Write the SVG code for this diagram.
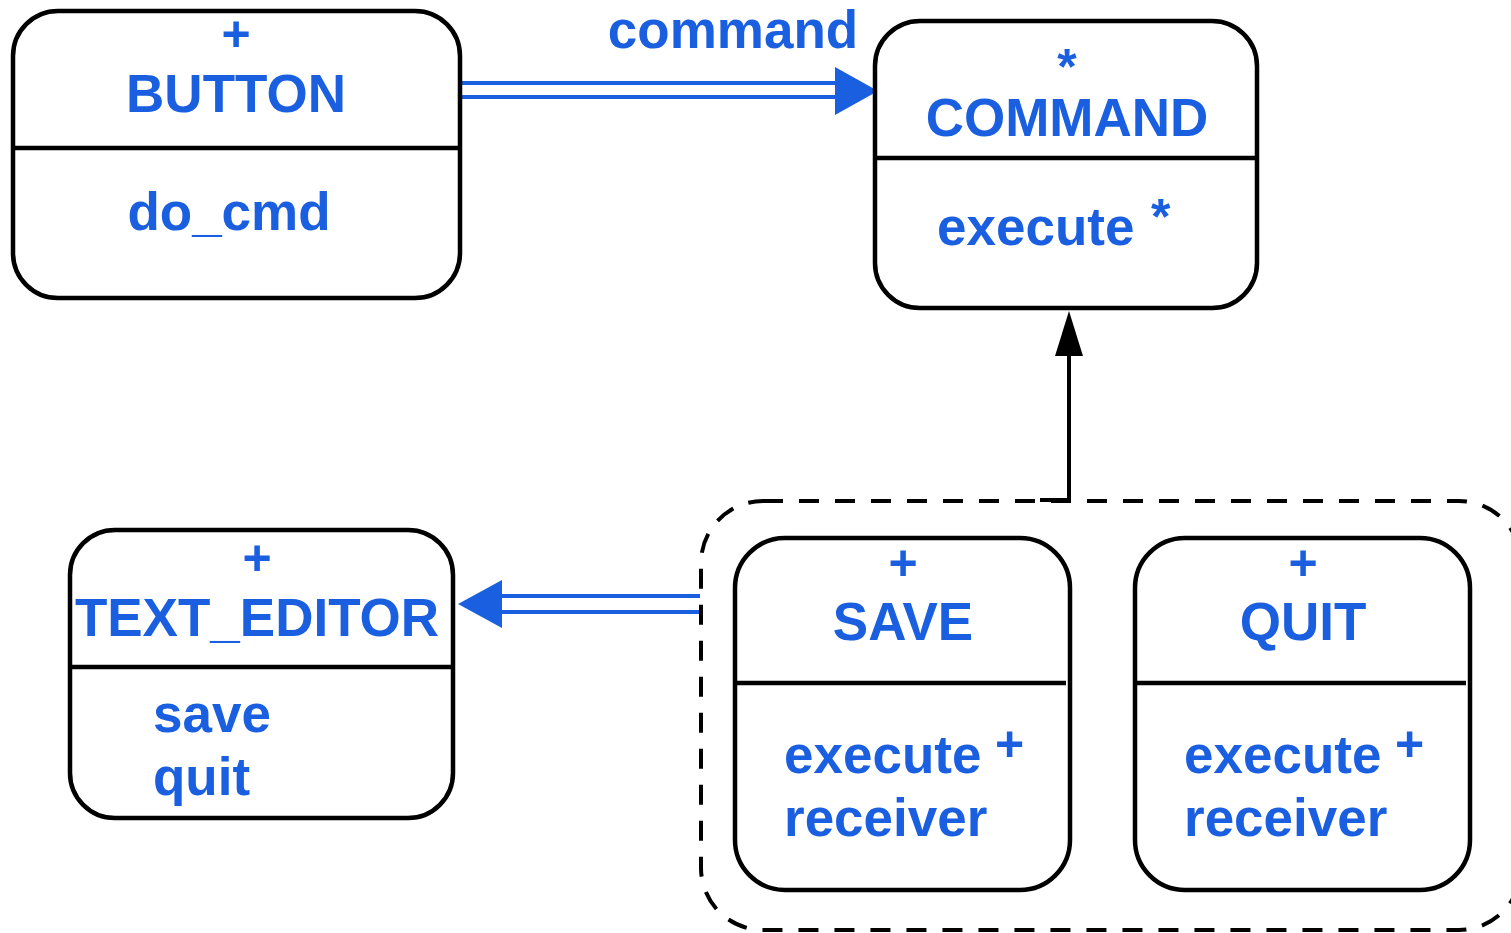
<svg xmlns="http://www.w3.org/2000/svg" width="1511" height="933" viewBox="0 0 1511 933">
<style>
.box{fill:#fff;stroke:#000;stroke-width:4.5}
.div{stroke:#000;stroke-width:4.5}
.t{font-family:"Liberation Sans",Arial,sans-serif;font-weight:bold;fill:#1a5fe0;font-size:53px}
.m{text-anchor:middle}
.s{font-size:50px}
.blue{stroke:#1a5fe0;stroke-width:4;fill:none}
</style>
<rect width="1511" height="933" fill="#fff"/>
<g id="connectors">
<line class="blue" x1="460" y1="83" x2="838" y2="83"/>
<line class="blue" x1="460" y1="97" x2="838" y2="97"/>
<polygon points="835,67 878,91 835,115" fill="#1a5fe0"/>
<text class="t" x="733" y="48" text-anchor="middle">command</text>
<line class="blue" x1="499" y1="596" x2="700" y2="596"/>
<line class="blue" x1="499" y1="612" x2="700" y2="612"/>
<polygon points="502,580 458,604 502,628" fill="#1a5fe0"/>
<polyline points="1040,500 1069,500 1069,350" fill="none" stroke="#000" stroke-width="4"/>
<polygon points="1055,356 1069,311 1083,356" fill="#000"/>
</g>
<g id="group">
<rect x="701" y="501" width="820" height="429" rx="62" fill="none" stroke="#000" stroke-width="4" stroke-dasharray="20,16"/>
</g>
<g id="button">
<rect class="box" x="13" y="11" width="447" height="287" rx="45"/>
<line class="div" x1="13" y1="148" x2="460" y2="148"/>
<text class="t s m" x="236" y="51">+</text>
<text class="t m" x="236" y="112">BUTTON</text>
<text class="t m" x="229" y="230">do_cmd</text>
</g>
<g id="command">
<rect class="box" x="875" y="21" width="382" height="287" rx="45"/>
<line class="div" x1="875" y1="158" x2="1257" y2="158"/>
<text class="t s m" x="1067" y="84">*</text>
<text class="t m" x="1067" y="136">COMMAND</text>
<text class="t" x="937" y="245">execute</text>
<text class="t s" x="1151" y="234">*</text>
</g>
<g id="text_editor">
<rect class="box" x="70" y="530" width="383" height="288" rx="45"/>
<line class="div" x1="70" y1="667" x2="453" y2="667"/>
<text class="t s m" x="257" y="575">+</text>
<text class="t m" x="257" y="636">TEXT_EDITOR</text>
<text class="t" x="153" y="732">save</text>
<text class="t" x="153" y="795">quit</text>
</g>
<g id="save">
<rect class="box" x="735" y="538" width="335" height="352" rx="50"/>
<line class="div" x1="735" y1="683" x2="1066" y2="683"/>
<text class="t s m" x="903" y="580">+</text>
<text class="t m" x="903" y="640">SAVE</text>
<text class="t" x="784" y="773">execute</text>
<text class="t s" x="995" y="761">+</text>
<text class="t" x="784" y="836">receiver</text>
</g>
<g id="quit">
<rect class="box" x="1135" y="538" width="335" height="352" rx="50"/>
<line class="div" x1="1135" y1="683" x2="1466" y2="683"/>
<text class="t s m" x="1303" y="580">+</text>
<text class="t m" x="1303" y="640">QUIT</text>
<text class="t" x="1184" y="773">execute</text>
<text class="t s" x="1395" y="761">+</text>
<text class="t" x="1184" y="836">receiver</text>
</g>
</svg>
